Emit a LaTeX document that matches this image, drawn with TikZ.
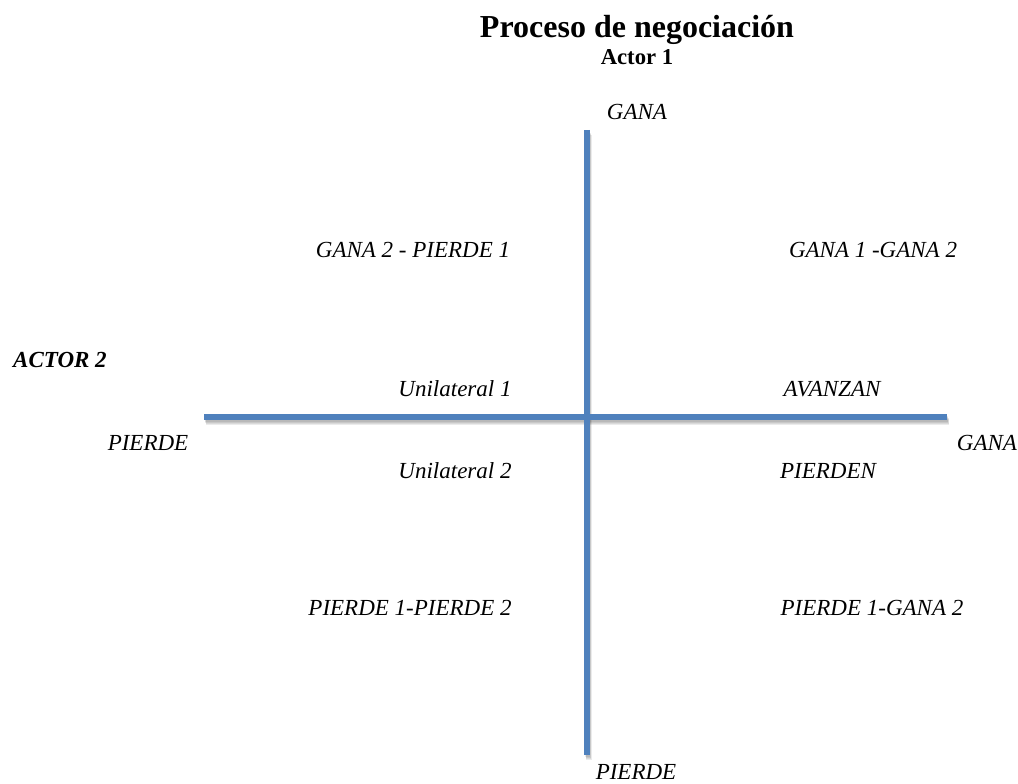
\documentclass[tikz,border=0pt]{standalone}
\usepackage{fontspec}
\setmainfont{Liberation Serif}
\definecolor{axisblue}{HTML}{4F81BD}
\begin{document}
\begin{tikzpicture}[x=0.75pt,y=-0.75pt,
  lbl/.style={font=\fontsize{17.25}{20}\selectfont\itshape, inner sep=0pt, anchor=center},
  axis/.style={draw=axisblue, line width=3.8pt},
  axshadow/.style={draw=black, line width=4pt, opacity=0.08},
  ]
\useasboundingbox (0,0) rectangle (1018,784);
% coordinates for axes
\coordinate (vtop) at (587,130);
\coordinate (vbot) at (587,755);
\coordinate (hleft) at (204,417);
\coordinate (hright) at (947,417);
% shadows
\foreach \d in {2,3,4,5}{
  \draw[axshadow] ([xshift=0.75*\d pt*0.4,yshift=-0.75*\d pt]vtop) -- ([xshift=0.75*\d pt*0.4,yshift=-0.75*\d pt]vbot);
  \draw[axshadow] ([xshift=0.75*\d pt*0.4,yshift=-0.75*\d pt]hleft) -- ([xshift=0.75*\d pt*0.4,yshift=-0.75*\d pt]hright);
}
\draw[axis] (vtop) -- (vbot);
\draw[axis] (hleft) -- (hright);
% texts
\node[font=\fontsize{24}{28}\selectfont\bfseries, inner sep=0pt] (title) at (637,30) {Proceso de negociación};
\node[font=\fontsize{17}{20}\selectfont\bfseries, inner sep=0pt] (actor1) at (637,57) {Actor 1};
\node[lbl] (ganatop) at (637,112) {GANA};
\node[lbl] (q2) at (413,250) {GANA 2 - PIERDE 1};
\node[lbl] (q1) at (873,250) {GANA 1 -GANA 2};
\node[lbl, font=\fontsize{17.25}{20}\selectfont\bfseries\itshape] (actor2) at (60,360) {ACTOR 2};
\node[lbl] (uni1) at (455,389) {Unilateral 1};
\node[lbl] (avanzan) at (832,389) {AVANZAN};
\node[lbl] (pierdeleft) at (148,443) {PIERDE};
\node[lbl] (ganaright) at (987,443) {GANA};
\node[lbl] (uni2) at (455,471) {Unilateral 2};
\node[lbl] (pierden) at (828,471) {PIERDEN};
\node[lbl] (q3) at (410,608) {PIERDE 1-PIERDE 2};
\node[lbl] (q4) at (872,608) {PIERDE 1-GANA 2};
\node[lbl] (pierdebot) at (636,772) {PIERDE};
\end{tikzpicture}
\end{document}
